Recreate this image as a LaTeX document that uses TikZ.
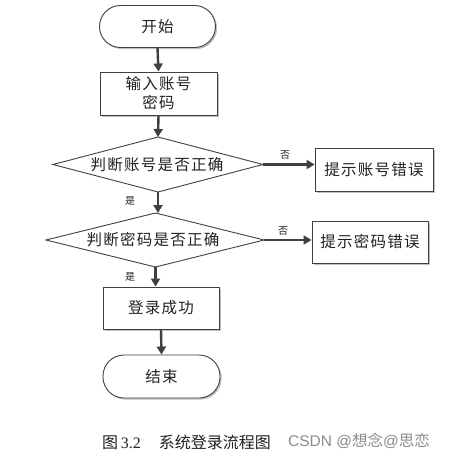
\documentclass[tikz,border=0pt]{standalone}
\usepackage{fontspec}
\setmainfont{Liberation Serif}
\newfontfamily\cjk{Noto Sans CJK SC}
\newfontfamily\cjksp[LetterSpace=8]{Noto Sans CJK SC}
\newfontfamily\wm{Liberation Sans}
\usetikzlibrary{shapes.geometric,arrows.meta,shadows}
\definecolor{linec}{HTML}{404040}
\definecolor{txtc}{HTML}{222222}
\tikzset{
  base/.style={draw=linec, line width=0.9pt, fill=white, text=txtc, font=\cjksp\fontsize{15.5}{19}\selectfont, inner sep=0pt, align=center,
    drop shadow={shadow xshift=1.6pt, shadow yshift=-1.6pt, opacity=0.25, fill=black}},
  term/.style={base, rounded corners=21pt, minimum width=116pt, minimum height=42pt},
  proc/.style={base, minimum width=117pt, minimum height=43pt},
  decline/.style={draw=linec, line width=0.9pt, fill=white},
  dectext/.style={text=txtc, font=\cjksp\fontsize{15.5}{19}\selectfont, inner sep=0pt},
  flow/.style={draw=linec, line width=2.4pt, -{Triangle[length=8pt,width=9pt]}},
  lab/.style={text=txtc, font=\cjk\fontsize{10}{12}\selectfont, inner sep=0pt}
}
\begin{document}
\begin{tikzpicture}[x=1pt,y=-1pt]
\useasboundingbox (0,0) rectangle (466,458);
\fill[white] (0,0) rectangle (466,458);
\node[term] (start) at (157.5,26.5) {开始};
\node[proc] (input) at (158.5,93.5) {输入账号\\密码};
% decision 1
\coordinate (d1n) at (158,137);
\coordinate (d1s) at (158,192);
\coordinate (d1w) at (53,164.5);
\coordinate (d1e) at (263,164.5);
\draw[decline] (d1n) -- (d1e) -- (d1s) -- (d1w) -- cycle;
\node[dectext] (d1) at (157,164.5) {判断账号是否正确};
\node[proc, minimum width=118pt] (e1) at (374,169.5) {提示账号错误};
% decision 2
\coordinate (d2n) at (155.5,213);
\coordinate (d2s) at (155.5,267);
\coordinate (d2w) at (46,240);
\coordinate (d2e) at (264,240);
\draw[decline] (d2n) -- (d2e) -- (d2s) -- (d2w) -- cycle;
\node[dectext] (d2) at (153,240) {判断密码是否正确};
\node[proc, minimum width=116pt, minimum height=42pt] (e2) at (370,242) {提示密码错误};
\node[proc, minimum width=116pt, minimum height=42pt] (ok) at (161,308) {登录成功};
\node[term, minimum width=117pt, minimum height=43pt] (end) at (161.5,376.5) {结束};
\draw[flow] (start.south) -- (input.north);
\draw[flow] (input.south) -- (d1n);
\draw[flow] (d1e) -- (d1e -| e1.west);
\draw[flow] (d1s) -- (d1s |- d2n);
\draw[flow] (d2e) -- (d2e -| e2.west);
\draw[flow] (d2s) -- (d2s |- ok.north);
\draw[flow] (ok.south) -- (end.north);
\node[lab] (n1) at (285,155) {否};
\node[lab] (y1) at (130,201) {是};
\node[lab] (n2) at (283,231) {否};
\node[lab] (y2) at (130,277) {是};
\node[anchor=west, inner sep=0pt, text=txtc, font=\fontsize{16}{18}\selectfont] (cap) at (102,442) {{\cjk 图}\,3.2\hspace{18pt}{\cjk 系统登录流程图}};
\node[anchor=west, inner sep=0pt, text=black!45, font=\wm\fontsize{15.5}{18}\selectfont] (wmk) at (288,441) {CSDN @{\cjk 想念}@{\cjk 思恋}};
\end{tikzpicture}
\end{document}
